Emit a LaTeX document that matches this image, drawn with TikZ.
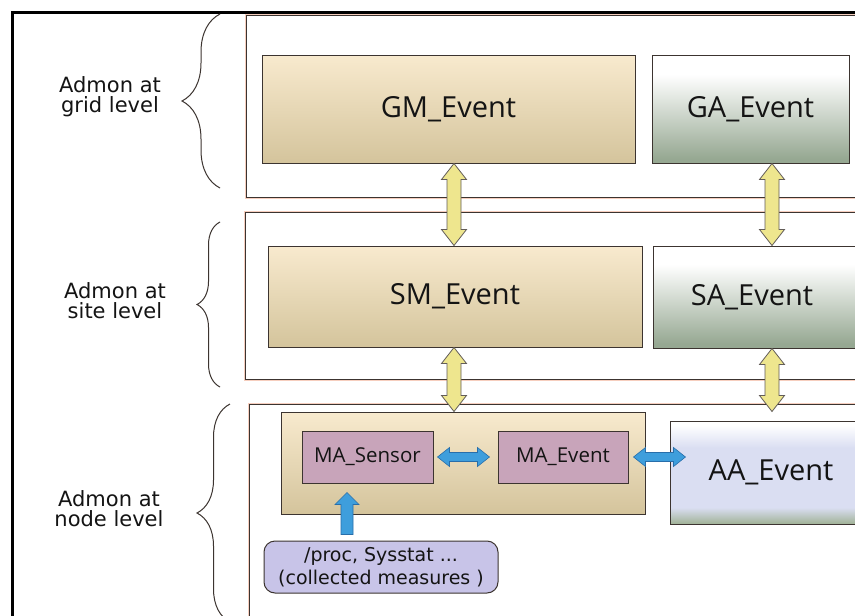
\documentclass[tikz,border=0pt]{standalone}
\usepackage{fontspec}
\setmainfont{DejaVu Sans}
\newfontfamily\boxfont{Open Sans}
\usetikzlibrary{calc,decorations.pathreplacing}
\definecolor{tantop}{RGB}{248,234,206}
\definecolor{tanbot}{RGB}{212,196,156}
\definecolor{gabot}{RGB}{150,168,146}
\definecolor{aamid}{RGB}{218,222,242}
\definecolor{aabot}{RGB}{160,178,150}
\definecolor{mauve}{RGB}{200,164,186}
\definecolor{lav}{RGB}{200,196,232}
\definecolor{yel}{RGB}{238,230,142}
\definecolor{blu}{RGB}{62,158,220}
\definecolor{bluline}{RGB}{40,110,170}
\definecolor{edge}{RGB}{60,52,48}
\definecolor{halo}{RGB}{246,206,190}
\definecolor{ink}{RGB}{20,20,20}
\pgfdeclareverticalshading{tanshade}{100bp}{color(0bp)=(tanbot); color(25bp)=(tanbot); color(75bp)=(tantop); color(100bp)=(tantop)}
\pgfdeclareverticalshading{gashade}{100bp}{color(0bp)=(gabot); color(27bp)=(gabot); color(66bp)=(white); color(100bp)=(white)}
\pgfdeclareverticalshading{aashade}{100bp}{color(0bp)=(aabot); color(25bp)=(aabot); color(33bp)=(aamid); color(62bp)=(aamid); color(73bp)=(white); color(100bp)=(white)}
\tikzset{
  level/.style={draw=edge, line width=0.8pt, fill=white,
     preaction={draw=halo, line width=3pt}, inner sep=0pt},
  evbox/.style={draw=edge, line width=1pt, inner sep=0pt, text=ink,
     font=\boxfont\fontsize{29}{32}\selectfont},
  tanbox/.style={evbox, shading=tanshade},
  greenbox/.style={evbox, shading=gashade},
  aabox/.style={evbox, shading=aashade},
  mabox/.style={draw=edge, line width=1pt, fill=mauve, inner sep=0pt, text=ink,
     font=\boxfont\fontsize{20.5}{22}\selectfont},
  lvlabel/.style={align=center, text=ink, font=\fontsize{21}{20}\selectfont},
  bracest/.style={draw=edge, line width=1pt, decorate},
  yarrow/.style={fill=yel, draw=edge!80, line width=0.8pt, line join=miter},
  barrow/.style={fill=blu, draw=bluline, line width=0.6pt, line join=miter},
  vdbl/.style={to path={let \p1=(\tikztostart),\p2=(\tikztotarget) in
    (\x1,\y1) -- (\x1+12.5pt,\y1-16pt) -- (\x1+7pt,\y1-16pt) -- (\x1+7pt,\y2+16pt)
    -- (\x1+12.5pt,\y2+16pt) -- (\x1,\y2) -- (\x1-12.5pt,\y2+16pt) -- (\x1-7pt,\y2+16pt)
    -- (\x1-7pt,\y1-16pt) -- (\x1-12.5pt,\y1-16pt) -- cycle}},
  hdbl/.style={to path={let \p1=(\tikztostart),\p2=(\tikztotarget) in
    (\x1,\y1) -- (\x1+12pt,\y1+9.5pt) -- (\x1+12pt,\y1+4.5pt) -- (\x2-12pt,\y1+4.5pt)
    -- (\x2-12pt,\y1+9.5pt) -- (\x2,\y1) -- (\x2-12pt,\y1-9.5pt) -- (\x2-12pt,\y1-4.5pt)
    -- (\x1+12pt,\y1-4.5pt) -- (\x1+12pt,\y1-9.5pt) -- cycle}},
  vup/.style={to path={let \p1=(\tikztostart),\p2=(\tikztotarget) in
    (\x1-6pt,\y1) -- (\x1-6pt,\y2-12pt) -- (\x1-12pt,\y2-12pt) -- (\x1,\y2)
    -- (\x1+12pt,\y2-12pt) -- (\x1+6pt,\y2-12pt) -- (\x1+6pt,\y1) -- cycle}}
}
\begin{document}
\begin{tikzpicture}[x=1pt,y=-1pt]
\useasboundingbox (0,0) rectangle (855,616);
\clip (0,0) rectangle (855,616);
\fill[white] (0,0) rectangle (855,616);
% level boxes
\node[level, minimum width=654pt, minimum height=182pt] (lvgrid) at (573,106) {};
\node[level, minimum width=655pt, minimum height=167pt] (lvsite) at (572.5,295.5) {};
\node[level, minimum width=651pt, minimum height=246pt] (lvnode) at (574.5,527) {};
% outer frame
\draw[line width=3pt, draw=black] (12,12) rectangle (900,700);
% braces
\draw[bracest, decoration={brace, amplitude=38pt}] (220,188) -- (220,14);
\draw[bracest, decoration={brace, amplitude=23pt}] (220,387) -- (220,222);
\draw[bracest, decoration={brace, amplitude=33pt}] (230,622) -- (230,404);
% level labels
\node[lvlabel] (lgrid) at (110,97) {Admon at\\grid level};
\node[lvlabel] (lsite) at (115,301) {Admon at\\site level};
\node[lvlabel] (lnode) at (109,509) {Admon at\\node level};
% event boxes
\node[tanbox, minimum width=373pt, minimum height=108pt] (GM) at (448.5,109) {GM\_Event};
\node[greenbox, minimum width=197pt, minimum height=108pt] (GA) at (750.5,109) {GA\_Event};
\node[tanbox, minimum width=374pt, minimum height=101pt] (SM) at (455,296.5) {SM\_Event};
\node[greenbox, minimum width=250pt, minimum height=102pt] (SA) at (778,297) {\hspace*{-52pt}SA\_Event};
\node[tanbox, minimum width=364pt, minimum height=102pt] (MA) at (463,463) {};
\node[mabox, minimum width=131pt, minimum height=52pt] (MAS) at (367.5,457) {MA\_Sensor};
\node[mabox, minimum width=130pt, minimum height=52pt] (MAE) at (563,457) {MA\_Event};
\node[aabox, minimum width=240pt, minimum height=103pt] (AA) at (790,472.5) {\hspace*{-38pt}AA\_Event};
\node[draw=edge, line width=1pt, fill=lav, rounded corners=11pt, inner sep=0pt,
      minimum width=234pt, minimum height=52pt, align=center, text=ink,
      font=\fontsize{19}{23}\selectfont] (PR) at (381,567)
      {/proc, Sysstat ...\\(collected measures )};
% helper coordinates
\coordinate (xL) at (454,0);
\coordinate (xR) at (772,0);
\coordinate (xU) at (347,0);
\coordinate (ya1) at (GM.south -| xL);
\coordinate (ya2) at (SM.north -| xL);
\coordinate (yb1) at (GA.south -| xR);
\coordinate (yb2) at (SA.north -| xR);
\coordinate (yc1) at (SM.south -| xL);
\coordinate (yc2) at (MA.north -| xL);
\coordinate (yd1) at (SA.south -| xR);
\coordinate (yd2) at (MA.north -| xR);
\coordinate (bs1) at ([xshift=4pt]MAS.east);
\coordinate (bs2) at ([xshift=-8pt]MAE.west);
\coordinate (be1) at ([xshift=5pt]MAE.east);
\coordinate (aax) at ([xshift=16pt]AA.west);
\coordinate (be2) at (aax |- MAE.east);
\coordinate (prt) at ([yshift=6pt]PR.north);
\coordinate (bu1) at (prt -| xU);
\coordinate (masb) at ([yshift=-9pt]MAS.south);
\coordinate (bu2) at (masb -| xU);
% yellow double arrows
\draw[yarrow] (ya1) to[vdbl] (ya2);
\draw[yarrow] (yb1) to[vdbl] (yb2);
\draw[yarrow] (yc1) to[vdbl] (yc2);
\draw[yarrow] (yd1) to[vdbl] (yd2);
% blue arrows
\draw[barrow] (bs1) to[hdbl] (bs2);
\draw[barrow] (be1) to[hdbl] (be2);
\draw[barrow] (bu1) to[vup] (bu2);
\end{tikzpicture}
\end{document}
